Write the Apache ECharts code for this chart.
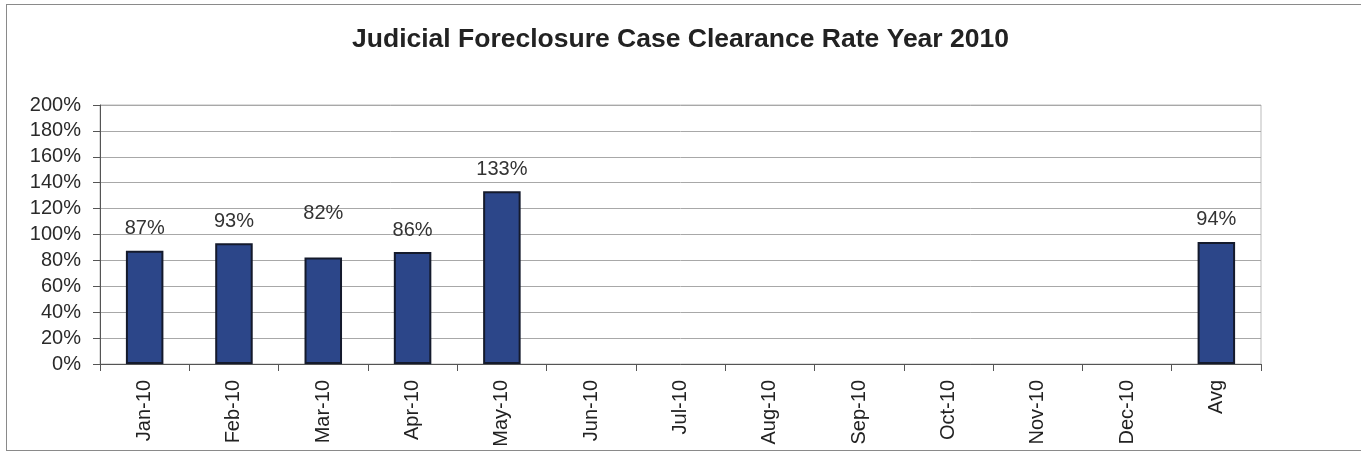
<!DOCTYPE html>
<html><head><meta charset="utf-8">
<script src="https://cdn.jsdelivr.net/npm/echarts@6/dist/echarts.min.js"></script>
<style>
html,body{margin:0;padding:0;background:#fff;}
#frame{position:absolute;left:6px;top:4px;width:1370px;height:447px;border:1px solid #8a8a8a;box-sizing:border-box;}
#c{position:absolute;left:0;top:0;width:1361px;height:458px;}
</style></head>
<body>
<div id="frame"></div>
<div id="c"></div>
<script>
const categories = ['Jan-10','Feb-10','Mar-10','Apr-10','May-10','Jun-10','Jul-10','Aug-10','Sep-10','Oct-10','Nov-10','Dec-10','Avg'];
const rates = [0.874, 0.932, 0.822, 0.864, 1.334, null, null, null, null, null, null, null, 0.943];
const yTicks = [0, 0.2, 0.4, 0.6, 0.8, 1.0, 1.2, 1.4, 1.6, 1.8, 2.0];

const chart = echarts.init(document.getElementById('c'));
const data = rates.map((v, i) => {
  const item = { value: v };
  if (i === 2) item.label = { distance: 34 };
  return item;
});
const FF = 'Liberation Sans, Arial, sans-serif';
chart.setOption({
  animation: false,
  title: {
    text: 'Judicial Foreclosure Case Clearance Rate Year 2010',
    left: 'center', top: 21,
    textStyle: { fontFamily: FF, fontSize: 26.5, fontWeight: 'bold', color: '#222' }
  },
  grid: { left: 100, right: 100, top: 105, bottom: 94, show: true, borderColor: '#bbb', borderWidth: 1, backgroundColor: 'transparent' },
  xAxis: {
    type: 'category', data: categories,
    axisLine: { lineStyle: { color: '#555', width: 1 } },
    axisTick: { show: true, length: 7, lineStyle: { color: '#555' }, alignWithLabel: false },
    axisLabel: { rotate: 90, fontFamily: FF, fontSize: 20, color: '#222', margin: 16 }
  },
  yAxis: {
    type: 'value', min: yTicks[0], max: yTicks[yTicks.length - 1], interval: 0.2,
    axisLine: { show: true, lineStyle: { color: '#555', width: 1 } },
    axisTick: { show: true, length: 7, lineStyle: { color: '#555' } },
    splitLine: { lineStyle: { color: '#a8a8a8', width: 1 } },
    axisLabel: { fontFamily: FF, fontSize: 20, color: '#2a2a2a', margin: 19,
      formatter: v => Math.round(v * 100) + '%' }
  },
  series: [{
    type: 'bar', data: data, barWidth: '42%',
    itemStyle: { color: '#2c4689', borderColor: '#141a2c', borderWidth: 2 },
    label: { show: true, position: 'top', distance: 12, fontFamily: FF, fontSize: 20, color: '#333',
      formatter: p => Math.round(p.value * 100) + '%' }
  }]
});
</script>
</body></html>
